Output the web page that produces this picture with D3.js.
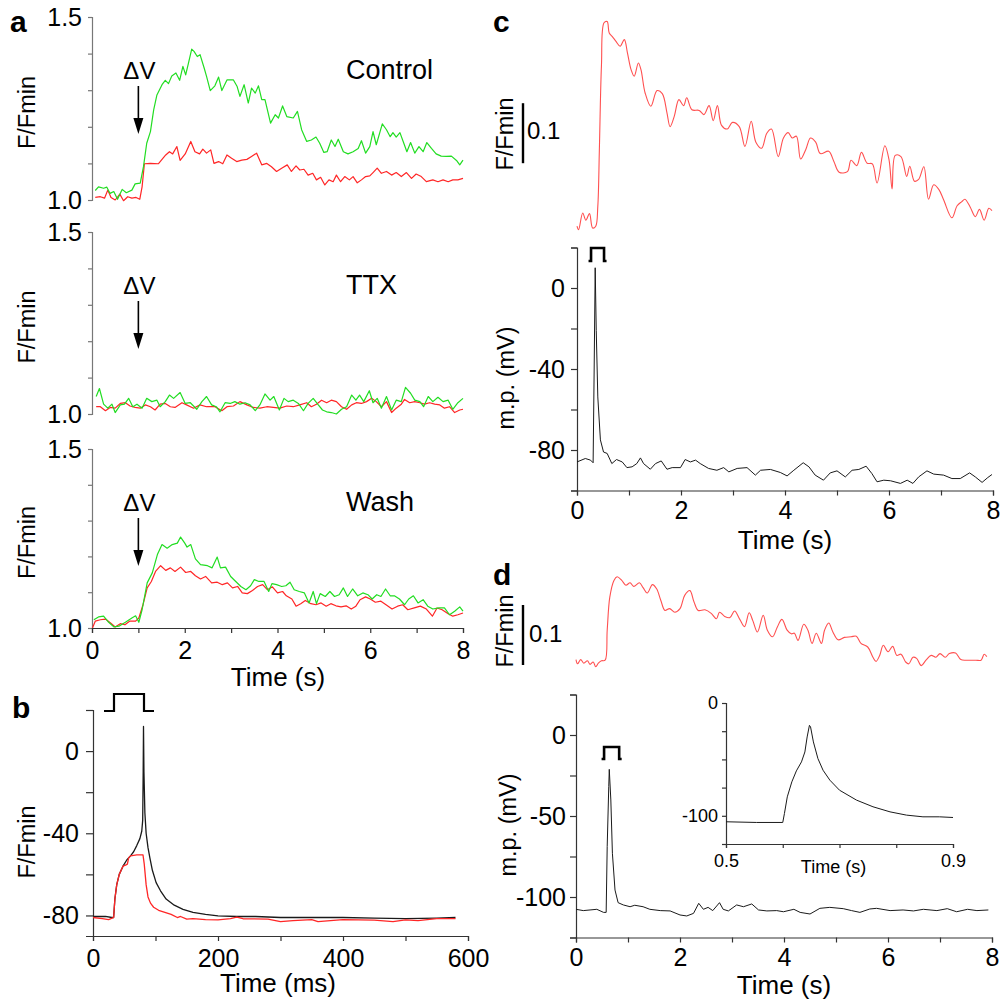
<!DOCTYPE html>
<html>
<head>
<meta charset="utf-8">
<script src="https://cdn.jsdelivr.net/npm/d3@7"></script>
<style>
  html, body { margin: 0; padding: 0; background: #fff; }
  svg text { font-family: "Liberation Sans", Arial, sans-serif; fill: #000; }
</style>
</head>
<body>
<script>
// ---- data ----
// panel a: [time (s), F/Fmin]
const ctrlGreen = [[0.07,1.026],[0.14,1.036],[0.25,1.032],[0.32,1.035],[0.39,1.018],[0.47,1.023],[0.55,1.002],[0.65,1.029],[0.74,1.02],[0.86,1.027],[0.93,1.044],[1.04,1.046],[1.11,1.091],[1.18,1.155],[1.26,1.187],[1.33,1.246],[1.40,1.287],[1.51,1.315],[1.58,1.327],[1.65,1.318],[1.72,1.339],[1.81,1.347],[1.89,1.327],[1.96,1.365],[2.02,1.342],[2.08,1.374],[2.15,1.412],[2.20,1.406],[2.27,1.392],[2.33,1.397],[2.42,1.36],[2.47,1.338],[2.55,1.299],[2.65,1.312],[2.73,1.336],[2.80,1.299],[2.91,1.328],[3.05,1.328],[3.13,1.31],[3.19,1.283],[3.28,1.315],[3.37,1.265],[3.44,1.306],[3.52,1.292],[3.59,1.312],[3.66,1.274],[3.73,1.274],[3.85,1.21],[3.95,1.233],[4.02,1.224],[4.11,1.257],[4.20,1.228],[4.34,1.224],[4.43,1.242],[4.52,1.192],[4.63,1.16],[4.73,1.164],[4.83,1.172],[4.91,1.155],[5.00,1.13],[5.07,1.132],[5.16,1.164],[5.24,1.146],[5.31,1.166],[5.42,1.132],[5.52,1.126],[5.63,1.132],[5.74,1.141],[5.81,1.162],[5.90,1.128],[5.99,1.146],[6.06,1.187],[6.13,1.151],[6.26,1.208],[6.35,1.192],[6.43,1.173],[6.49,1.184],[6.56,1.172],[6.64,1.184],[6.71,1.16],[6.79,1.132],[6.87,1.157],[6.96,1.128],[7.05,1.146],[7.14,1.132],[7.22,1.157],[7.32,1.141],[7.42,1.126],[7.53,1.12],[7.64,1.119],[7.75,1.12],[7.86,1.108],[7.93,1.096],[8.00,1.109]];
const ctrlRed = [[0.07,1.007],[0.18,1.009],[0.27,1.005],[0.34,1.027],[0.41,1.007],[0.50,1.0],[0.60,1.016],[0.68,0.998],[0.77,1.009],[0.86,1.005],[0.95,1.007],[1.03,1.002],[1.08,1.036],[1.13,1.099],[1.26,1.1],[1.43,1.099],[1.51,1.111],[1.59,1.123],[1.67,1.132],[1.74,1.126],[1.83,1.146],[1.90,1.108],[2.01,1.126],[2.13,1.16],[2.22,1.132],[2.32,1.126],[2.39,1.139],[2.47,1.128],[2.56,1.137],[2.63,1.1],[2.73,1.105],[2.82,1.099],[2.91,1.123],[3.01,1.114],[3.12,1.105],[3.23,1.109],[3.34,1.111],[3.44,1.119],[3.55,1.128],[3.66,1.096],[3.77,1.1],[3.87,1.091],[3.98,1.078],[4.09,1.087],[4.21,1.096],[4.30,1.078],[4.40,1.093],[4.48,1.082],[4.57,1.084],[4.66,1.068],[4.76,1.073],[4.84,1.055],[4.93,1.062],[5.02,1.041],[5.11,1.055],[5.20,1.05],[5.27,1.068],[5.36,1.05],[5.45,1.064],[5.55,1.055],[5.63,1.064],[5.72,1.047],[5.81,1.055],[5.90,1.064],[5.99,1.066],[6.06,1.075],[6.15,1.087],[6.24,1.073],[6.35,1.078],[6.46,1.068],[6.56,1.075],[6.67,1.064],[6.78,1.075],[6.89,1.059],[6.99,1.071],[7.10,1.064],[7.21,1.05],[7.35,1.055],[7.46,1.05],[7.57,1.055],[7.68,1.05],[7.78,1.055],[7.89,1.055],[8.00,1.059]];
const ttxGreen = [[0.09,1.048],[0.16,1.07],[0.25,1.027],[0.34,1.016],[0.43,1.027],[0.50,1.004],[0.61,1.025],[0.70,1.027],[0.79,1.043],[0.88,1.02],[0.97,1.027],[1.08,1.016],[1.18,1.043],[1.29,1.034],[1.40,1.038],[1.47,1.02],[1.58,1.034],[1.67,1.052],[1.76,1.043],[1.90,1.059],[2.01,1.029],[2.12,1.031],[2.26,1.013],[2.37,1.034],[2.47,1.048],[2.58,1.025],[2.68,1.02],[2.76,1.006],[2.87,1.031],[2.98,1.029],[3.08,1.034],[3.19,1.027],[3.30,1.031],[3.41,1.025],[3.52,1.009],[3.62,1.025],[3.73,1.055],[3.84,1.038],[3.92,1.048],[4.04,1.011],[4.14,1.043],[4.23,1.034],[4.34,1.038],[4.45,1.029],[4.56,1.009],[4.66,1.029],[4.77,1.043],[4.88,1.025],[4.97,1.011],[5.06,1.006],[5.16,1.004],[5.27,1.0],[5.38,1.013],[5.49,1.02],[5.60,1.052],[5.69,1.038],[5.77,1.052],[5.86,1.034],[5.98,1.064],[6.06,1.031],[6.15,1.043],[6.24,1.016],[6.35,1.048],[6.46,1.011],[6.56,1.038],[6.67,1.034],[6.76,1.073],[6.87,1.057],[6.96,1.038],[7.07,1.034],[7.15,1.02],[7.25,1.048],[7.35,1.034],[7.46,1.046],[7.57,1.034],[7.68,1.038],[7.78,1.013],[7.89,1.031],[8.00,1.043]];
const ttxRed = [[0.09,1.02],[0.18,1.02],[0.29,1.009],[0.39,1.018],[0.50,1.016],[0.61,1.029],[0.72,1.031],[0.82,1.022],[0.93,1.018],[1.04,1.016],[1.15,1.025],[1.26,1.02],[1.36,1.011],[1.47,1.027],[1.58,1.029],[1.69,1.02],[1.79,1.018],[1.94,1.031],[2.04,1.025],[2.19,1.016],[2.33,1.025],[2.47,1.02],[2.65,1.02],[2.80,1.009],[2.91,1.02],[3.05,1.022],[3.19,1.034],[3.34,1.025],[3.48,1.018],[3.62,1.016],[3.77,1.02],[3.91,1.018],[4.05,1.016],[4.20,1.022],[4.34,1.02],[4.48,1.025],[4.63,1.031],[4.73,1.02],[4.84,1.027],[4.95,1.038],[5.06,1.031],[5.16,1.038],[5.27,1.034],[5.38,1.02],[5.49,1.013],[5.60,1.025],[5.70,1.031],[5.81,1.029],[5.92,1.034],[6.03,1.043],[6.13,1.034],[6.24,1.02],[6.35,1.034],[6.46,1.004],[6.56,1.016],[6.67,1.027],[6.74,1.04],[6.85,1.031],[6.96,1.034],[7.07,1.031],[7.17,1.027],[7.28,1.031],[7.39,1.027],[7.50,1.025],[7.60,1.016],[7.71,1.02],[7.82,1.004],[7.93,1.011],[8.00,1.013]];
const washGreen = [[0.04,1.023],[0.14,1.031],[0.25,1.033],[0.36,1.016],[0.47,1.003],[0.58,1.005],[0.72,1.016],[0.86,1.028],[0.94,1.034],[1.01,1.016],[1.08,1.051],[1.19,1.126],[1.30,1.154],[1.41,1.205],[1.51,1.233],[1.62,1.223],[1.73,1.233],[1.84,1.237],[1.91,1.254],[2.00,1.237],[2.05,1.226],[2.13,1.233],[2.23,1.193],[2.34,1.177],[2.49,1.174],[2.59,1.168],[2.70,1.198],[2.77,1.168],[2.88,1.17],[2.99,1.144],[3.10,1.13],[3.21,1.116],[3.32,1.107],[3.42,1.118],[3.50,1.135],[3.60,1.13],[3.71,1.13],[3.81,1.102],[3.88,1.124],[3.98,1.121],[4.09,1.116],[4.18,1.118],[4.27,1.128],[4.36,1.107],[4.47,1.102],[4.58,1.098],[4.68,1.07],[4.77,1.102],[4.84,1.068],[4.92,1.096],[5.03,1.088],[5.13,1.102],[5.23,1.088],[5.33,1.093],[5.42,1.112],[5.51,1.088],[5.62,1.109],[5.73,1.09],[5.84,1.098],[5.95,1.093],[6.04,1.081],[6.14,1.093],[6.23,1.088],[6.33,1.109],[6.43,1.09],[6.52,1.09],[6.63,1.081],[6.74,1.065],[6.83,1.081],[6.93,1.09],[7.03,1.07],[7.14,1.079],[7.24,1.061],[7.35,1.053],[7.48,1.056],[7.60,1.056],[7.71,1.037],[7.82,1.047],[7.93,1.059],[8.00,1.047]];
const washRed = [[0.01,1.0],[0.07,1.019],[0.18,1.023],[0.29,1.025],[0.40,1.014],[0.50,1.003],[0.61,1.012],[0.71,1.009],[0.81,1.019],[0.94,1.019],[1.01,1.028],[1.10,1.065],[1.19,1.112],[1.28,1.13],[1.37,1.158],[1.48,1.174],[1.59,1.161],[1.69,1.168],[1.79,1.158],[1.91,1.17],[2.02,1.155],[2.13,1.158],[2.23,1.146],[2.34,1.137],[2.45,1.144],[2.58,1.126],[2.70,1.128],[2.81,1.121],[2.92,1.126],[3.03,1.112],[3.14,1.116],[3.24,1.098],[3.35,1.096],[3.46,1.105],[3.57,1.116],[3.68,1.121],[3.78,1.107],[3.89,1.115],[4.00,1.098],[4.11,1.102],[4.19,1.09],[4.31,1.081],[4.40,1.061],[4.50,1.068],[4.60,1.077],[4.72,1.068],[4.83,1.065],[4.94,1.07],[5.05,1.061],[5.15,1.068],[5.26,1.062],[5.37,1.059],[5.48,1.062],[5.59,1.053],[5.69,1.061],[5.78,1.079],[5.90,1.087],[6.00,1.081],[6.11,1.072],[6.23,1.075],[6.34,1.065],[6.47,1.053],[6.59,1.061],[6.70,1.065],[6.81,1.051],[6.95,1.056],[7.08,1.061],[7.21,1.053],[7.34,1.033],[7.44,1.056],[7.55,1.051],[7.68,1.04],[7.78,1.033],[7.89,1.037],[8.00,1.042]];

// panel b: [time (ms), value]
const bBlack = [[0,-80.5],[20,-80.5],[30,-81],[33,-81],[35,-72],[38,-65],[42,-60],[48,-56],[54,-53],[60,-51],[65,-49],[70,-46],[75,-42.6],[78,-39],[79.5,-33.7],[80.3,-10],[80.8,12],[81.5,-10],[83,-30],[85,-40],[88,-47],[91,-52],[95,-58],[101,-64],[108,-68],[117,-72],[130,-75],[144,-77],[160,-78.5],[180,-79.5],[200,-80.2],[230,-80.5],[260,-80.5],[300,-81],[350,-81],[400,-81],[450,-81.3],[500,-81.5],[550,-81.3],[580,-81]];
const bRed = [[0,-81],[15,-81.5],[25,-82],[33,-81],[35,-72],[38,-65],[42,-60],[48,-56],[52,-55.5],[55,-55],[57,-52],[60,-51],[70,-50.5],[80,-50.5],[82,-55],[85,-65],[88,-71],[92,-74],[97,-76],[105,-77.5],[115,-78.5],[125,-79.5],[135,-81],[140,-80.5],[150,-81.8],[160,-81.5],[180,-82],[200,-82.2],[220,-81.5],[230,-80.8],[240,-81.6],[280,-81.8],[300,-83],[320,-82.5],[350,-82],[360,-83],[400,-82],[450,-82.3],[480,-83],[500,-82.2],[520,-82.5],[550,-81.5],[580,-81.5]];
const bPulse = [17.6, 33.6, 81.6, 96];   // step command: start, on, off, end (ms)

// panel c: [time (s), F/Fmin] and [time (s), mV]
const cRed = [[0,1.003],[0.03,0.997],[0.11,1.025],[0.17,1.013],[0.24,1.024],[0.30,1.0],[0.36,1.003],[0.40,1.036],[0.43,1.13],[0.47,1.27],[0.52,1.342],[0.58,1.344],[0.62,1.325],[0.68,1.319],[0.75,1.311],[0.83,1.303],[0.91,1.314],[0.97,1.292],[1.04,1.264],[1.10,1.253],[1.18,1.275],[1.23,1.264],[1.31,1.225],[1.42,1.203],[1.54,1.229],[1.64,1.224],[1.73,1.192],[1.79,1.169],[1.87,1.186],[1.96,1.214],[2.05,1.204],[2.11,1.217],[2.21,1.197],[2.35,1.196],[2.44,1.189],[2.54,1.204],[2.62,1.179],[2.70,1.204],[2.78,1.171],[2.89,1.165],[2.99,1.176],[3.12,1.169],[3.23,1.136],[3.35,1.178],[3.44,1.143],[3.55,1.133],[3.65,1.158],[3.74,1.165],[3.87,1.119],[3.97,1.15],[4.06,1.159],[4.14,1.15],[4.22,1.153],[4.30,1.115],[4.40,1.131],[4.49,1.15],[4.59,1.143],[4.68,1.124],[4.84,1.128],[4.94,1.111],[5.04,1.093],[5.20,1.094],[5.27,1.113],[5.38,1.104],[5.47,1.126],[5.58,1.108],[5.68,1.107],[5.77,1.075],[5.92,1.137],[6.00,1.114],[6.06,1.065],[6.12,1.121],[6.23,1.119],[6.34,1.086],[6.40,1.103],[6.49,1.078],[6.57,1.081],[6.67,1.102],[6.76,1.048],[6.86,1.072],[6.96,1.064],[7.05,1.047],[7.21,1.017],[7.31,1.037],[7.40,1.044],[7.46,1.048],[7.56,1.035],[7.66,1.019],[7.74,1.031],[7.83,1.013],[7.92,1.033],[7.98,1.029]];
const cBlack = [[0,-85.9],[0.16,-84.2],[0.26,-85],[0.31,-86.3],[0.33,-40],[0.35,10],[0.37,-20.9],[0.40,-53.8],[0.45,-75],[0.51,-81],[0.58,-81.7],[0.67,-86.7],[0.76,-84.7],[0.87,-85.9],[0.96,-88.7],[1.06,-88.3],[1.15,-86.7],[1.22,-83.9],[1.28,-86.7],[1.41,-89.5],[1.51,-86.7],[1.62,-85.4],[1.73,-89.5],[1.83,-88.7],[1.99,-88.7],[2.08,-84.7],[2.18,-85.9],[2.28,-85],[2.37,-86.7],[2.53,-89.1],[2.69,-90],[2.82,-88.7],[2.92,-90.8],[3.08,-89.1],[3.27,-88.7],[3.43,-92.4],[3.53,-90],[3.72,-89.6],[3.91,-91.1],[4.04,-92.8],[4.17,-90],[4.35,-86.3],[4.46,-88.3],[4.58,-92.4],[4.74,-94.9],[4.87,-91.3],[5.00,-90.3],[5.16,-93.3],[5.29,-90],[5.42,-89.6],[5.56,-88],[5.67,-91.6],[5.77,-95.7],[5.90,-94.9],[6.03,-95.2],[6.22,-96.5],[6.35,-94.9],[6.46,-96.5],[6.57,-93.3],[6.73,-90.3],[6.86,-91.9],[7.05,-92.4],[7.21,-94.1],[7.37,-94.1],[7.55,-91.3],[7.66,-93.3],[7.79,-96],[7.90,-93.6],[7.98,-92.1]];
const cPulse = [0.27, 0.52];

// panel d
const dRed = [[0,1.004],[0.03,0.997],[0.09,1.004],[0.15,0.998],[0.22,1.002],[0.27,0.996],[0.33,1.0],[0.38,0.992],[0.43,0.998],[0.49,1.002],[0.56,1.003],[0.60,1.053],[0.65,1.108],[0.73,1.136],[0.79,1.142],[0.88,1.136],[0.96,1.128],[1.04,1.132],[1.11,1.126],[1.22,1.132],[1.29,1.124],[1.37,1.115],[1.47,1.129],[1.55,1.122],[1.63,1.103],[1.71,1.086],[1.80,1.089],[1.90,1.083],[2.00,1.089],[2.09,1.111],[2.19,1.119],[2.27,1.1],[2.35,1.086],[2.48,1.087],[2.60,1.081],[2.70,1.072],[2.76,1.083],[2.86,1.076],[2.96,1.074],[3.05,1.085],[3.15,1.071],[3.24,1.059],[3.33,1.082],[3.40,1.069],[3.49,1.05],[3.60,1.078],[3.68,1.053],[3.78,1.042],[3.87,1.058],[3.96,1.071],[4.06,1.053],[4.14,1.047],[4.20,1.048],[4.27,1.036],[4.38,1.063],[4.46,1.053],[4.54,1.031],[4.62,1.048],[4.72,1.031],[4.78,1.053],[4.86,1.065],[4.94,1.05],[5.04,1.037],[5.16,1.041],[5.29,1.042],[5.39,1.043],[5.48,1.031],[5.61,1.025],[5.71,1.008],[5.77,1.001],[5.84,1.011],[5.91,1.028],[6.00,1.017],[6.09,1.026],[6.17,1.011],[6.25,1.013],[6.34,1.0],[6.40,0.997],[6.48,1.008],[6.55,1.006],[6.64,0.994],[6.73,1.003],[6.83,1.011],[6.92,1.008],[7.00,1.014],[7.10,1.008],[7.18,1.014],[7.30,1.015],[7.40,1.004],[7.53,1.003],[7.69,1.003],[7.79,1.003],[7.85,1.013],[7.90,1.009]];
const dBlack = [[0,-107.6],[0.14,-108.4],[0.27,-108],[0.40,-107.6],[0.53,-109.5],[0.58,-109.5],[0.60,-68.9],[0.63,-31.9],[0.64,-21.2],[0.67,-40.1],[0.70,-73],[0.75,-95.7],[0.81,-103.5],[0.91,-104.9],[1.04,-106],[1.13,-105.1],[1.29,-106],[1.42,-107.6],[1.62,-108.4],[1.81,-108.6],[2.00,-111.1],[2.13,-111.7],[2.26,-110.1],[2.36,-103.9],[2.45,-107.6],[2.54,-106.4],[2.63,-108.4],[2.76,-103.5],[2.83,-107.6],[2.93,-108.6],[3.09,-104.9],[3.22,-106],[3.38,-104.3],[3.51,-108],[3.67,-108.6],[3.86,-108.4],[3.99,-109.1],[4.19,-107.6],[4.31,-109.5],[4.50,-110.5],[4.69,-107],[4.88,-106.4],[5.14,-107.2],[5.30,-108.4],[5.46,-109.5],[5.65,-107.4],[5.78,-107],[6.04,-108.4],[6.29,-108],[6.49,-108.6],[6.68,-107.6],[6.94,-108.4],[7.14,-107.2],[7.32,-109.1],[7.53,-107.6],[7.71,-108.4],[7.93,-108]];
const dPulse = [0.54, 0.83];
const dInset = [[0.5,-105.3],[0.554,-105.9],[0.6,-105.9],[0.603,-97.9],[0.608,-83.2],[0.616,-69.9],[0.624,-60.2],[0.633,-52.2],[0.639,-43.4],[0.643,-30.1],[0.647,-19.8],[0.649,-21.2],[0.654,-34.5],[0.662,-49.3],[0.671,-59.6],[0.683,-68.4],[0.7,-77.3],[0.73,-86.1],[0.759,-92],[0.789,-96.5],[0.818,-99.4],[0.847,-100.9],[0.876,-100.9],[0.9,-101.5]];

// tick values
const aTicksY = [1.0, 1.1, 1.2, 1.3, 1.4, 1.5];
const aLabelsY = [1.0, 1.5];
const secTicks = [0, 1, 2, 3, 4, 5, 6, 7, 8];
const secLabels = [0, 2, 4, 6, 8];
const bTicksX = [0, 100, 200, 300, 400, 500, 600];
const bLabelsX = [0, 200, 400, 600];
const bTicksY = [20, 0, -20, -40, -60, -80];
const bLabelsY = [0, -40, -80];
const cTicksY = [20, 0, -20, -40, -60, -80, -100];
const cLabelsY = [0, -40, -80];
const dTicksY = [25, 0, -25, -50, -75, -100, -125];
const dLabelsY = [0, -50, -100];
const insetTicksX = [0.5, 0.6, 0.7, 0.8, 0.9];
const insetLabelsX = [0.5, 0.9];
const insetTicksY = [0, -25, -50, -75, -100, -125];
const insetLabelsY = [0, -100];

const aConditions = ["Control", "TTX", "Wash"];

// ---- drawing ----
const svg = d3.select("body").append("svg")
  .attr("width", 1004)
  .attr("height", 1003);

const GREEN = "#22dd22", RED = "#ff2626", PALE_RED = "#ff5050", BLACK = "#1a1a1a";

function trace(data, xs, ys, color, width, curve) {
  svg.append("path")
    .datum(data)
    .attr("fill", "none")
    .attr("stroke", color)
    .attr("stroke-width", width)
    .attr("stroke-linejoin", "round")
    .attr("d", d3.line().x(d => xs(d[0])).y(d => ys(d[1])).curve(curve || d3.curveLinear));
}

function styleAxis(g, fontSize, color) {
  g.select(".domain").attr("stroke", color).attr("stroke-width", 1.2);
  g.selectAll(".tick line").attr("stroke", color).attr("stroke-width", 1.2);
  g.selectAll(".tick text").attr("fill", "#000").style("font-size", fontSize + "px")
    .style("font-family", "'Liberation Sans', Arial, sans-serif");
}

function fmtLabel(labels, fmt) {
  return d => labels.includes(d) ? fmt(d) : "";
}

function leftAxis(x, scale, ticks, labels, fmt, o) {
  const g = svg.append("g").attr("transform", `translate(${x},0)`)
    .call(d3.axisLeft(scale).tickValues(ticks).tickSizeOuter(0)
      .tickSize(o.size).tickPadding(o.pad).tickFormat(fmtLabel(labels, fmt)));
  styleAxis(g, o.font, o.color);
}

function bottomAxis(y, scale, ticks, labels, fmt, o) {
  const g = svg.append("g").attr("transform", `translate(0,${y})`)
    .call(d3.axisBottom(scale).tickValues(ticks).tickSizeOuter(0)
      .tickSize(o.size).tickPadding(o.pad).tickFormat(fmtLabel(labels, fmt)));
  styleAxis(g, o.font, o.color);
}

function label(text, x, y, size, opts = {}) {
  const t = svg.append("text")
    .attr("x", x).attr("y", y)
    .attr("text-anchor", opts.anchor || "middle")
    .style("font-size", size + "px")
    .text(text);
  if (opts.bold) t.style("font-weight", "bold");
  return t;
}

function yTitle(text, cx, cy, size) {
  svg.append("text")
    .attr("transform", `translate(${cx},${cy}) rotate(-90)`)
    .attr("text-anchor", "middle")
    .attr("dy", "0.35em")
    .style("font-size", size + "px")
    .text(text);
}

function pulse(x0, x1, yTop, yBot, foot, width) {
  svg.append("path")
    .attr("fill", "none").attr("stroke", "#000").attr("stroke-width", width)
    .attr("d", `M${x0 - foot},${yBot}H${x0}V${yTop}H${x1}V${yBot}H${x1 + foot}`);
}

const num = d => String(d);
const dec1 = d3.format(".1f");

// ---- panel a ----
const xA = d3.scaleLinear().domain([0, 8]).range([92, 463]);
const aTops = [17, 232, 449];
const aBottoms = [200, 414, 628];
const aSeries = [[ctrlGreen, ctrlRed], [ttxGreen, ttxRed], [washGreen, washRed]];

aSeries.forEach(([green, red], i) => {
  const top = aTops[i];
  const y = d3.scaleLinear().domain([1.0, 1.5]).range([aBottoms[i], top]);
  leftAxis(xA(0), y, aTicksY, aLabelsY, dec1, { size: 4, pad: 6, font: 25, color: "#777" });
  trace(red, xA, y, RED, 1.2);
  trace(green, xA, y, GREEN, 1.2);
  yTitle("F/Fmin", 27, (top + aBottoms[i]) / 2 + 4, 23.5);

  // stimulus arrow
  const ax = xA(1);
  label("\u0394V", ax + 1, top + 62, 24);
  svg.append("line")
    .attr("x1", ax).attr("x2", ax)
    .attr("y1", top + 69).attr("y2", top + 104)
    .attr("stroke", "#000").attr("stroke-width", 1.6);
  svg.append("path")
    .attr("d", `M${ax - 5},${top + 101}L${ax + 5},${top + 101}L${ax},${top + 117}Z`)
    .attr("fill", "#000");

  label(aConditions[i], 346, top + 62, 27, { anchor: "start" });
});
bottomAxis(aBottoms[2], xA, secTicks, secLabels, num, { size: 5, pad: 8, font: 25, color: "#333" });
label("Time (s)", 278, 686, 26);
label("a", 10, 32, 30, { anchor: "start", bold: true });

// ---- panel b ----
const xB = d3.scaleLinear().domain([0, 600]).range([93, 468]);
const yB = d3.scaleLinear().domain([-90, 20]).range([936, 710]);
leftAxis(xB(0), yB, bTicksY, bLabelsY, num, { size: 7, pad: 7, font: 25, color: "#333" });
bottomAxis(yB(-90), xB, bTicksX, bLabelsX, num, { size: 5, pad: 8, font: 25, color: "#333" });
trace(bBlack, xB, yB, BLACK, 1.3);
trace(bRed, xB, yB, RED, 1.3);
pulse(xB(bPulse[1]), xB(bPulse[2]), yB(20) - 16, yB(20) + 1, xB(bPulse[1]) - xB(bPulse[0]), 2.2);
yTitle("F/Fmin", 27, 842, 23.5);
label("Time (ms)", 278, 992, 26);
label("b", 12, 718, 30, { anchor: "start", bold: true });

// ---- panel c ----
const xC = d3.scaleLinear().domain([0, 8]).range([577, 993]);
const yCu = d3.scaleLinear().domain([1.0, 1.1]).range([228, 168]);
trace(cRed, xC, yCu, PALE_RED, 1.1, d3.curveCatmullRom);
svg.append("line")
  .attr("x1", 523).attr("x2", 523)
  .attr("y1", yCu(1.108)).attr("y2", yCu(1.208))
  .attr("stroke", "#000").attr("stroke-width", 2.4);
label("0.1", 527, 139, 24, { anchor: "start" });
yTitle("F/Fmin", 505, 134, 23.5);

const yCl = d3.scaleLinear().domain([-100, 20]).range([490.5, 247.5]);
leftAxis(xC(0), yCl, cTicksY, cLabelsY, num, { size: 6, pad: 6, font: 25, color: "#333" });
bottomAxis(yCl(-100), xC, secTicks, secLabels, num, { size: 5, pad: 6, font: 25, color: "#333" });
trace(cBlack, xC, yCl, BLACK, 1);
pulse(xC(cPulse[0]), xC(cPulse[1]), 248, 261, 2.5, 2.6);
yTitle("m.p. (mV)", 506, 378, 23.5);
label("Time (s)", 785, 549, 26);
label("c", 493, 32, 30, { anchor: "start", bold: true });

// ---- panel d ----
const xD = d3.scaleLinear().domain([0, 8]).range([576, 992]);
const yDu = d3.scaleLinear().domain([1.0, 1.1]).range([662, 602]);
trace(dRed, xD, yDu, PALE_RED, 1.1, d3.curveCatmullRom);
svg.append("line")
  .attr("x1", 523).attr("x2", 523)
  .attr("y1", yDu(0.995)).attr("y2", yDu(1.095))
  .attr("stroke", "#000").attr("stroke-width", 2.4);
label("0.1", 529, 642, 24, { anchor: "start" });
yTitle("F/Fmin", 505, 631, 23.5);

const yDl = d3.scaleLinear().domain([-125, 25]).range([937.5, 694.5]);
leftAxis(xD(0), yDl, dTicksY, dLabelsY, num, { size: 6, pad: 4, font: 25, color: "#333" });
bottomAxis(yDl(-125), xD, secTicks, secLabels, num, { size: 5, pad: 6, font: 25, color: "#333" });
trace(dBlack, xD, yDl, BLACK, 1);
pulse(xD(dPulse[0]), xD(dPulse[1]), 747, 759, 2.5, 2.6);
yTitle("m.p. (mV)", 508, 825, 23.5);
label("Time (s)", 784, 994, 26);
label("d", 493, 585, 30, { anchor: "start", bold: true });

// inset
const xI = d3.scaleLinear().domain([0.5, 0.9]).range([726, 953]);
const yI = d3.scaleLinear().domain([-125, 0]).range([844, 703]);
leftAxis(xI(0.5), yI, insetTicksY, insetLabelsY, num, { size: 4, pad: 4, font: 18, color: "#333" });
bottomAxis(yI(-125), xI, insetTicksX, insetLabelsX, num, { size: 4, pad: 6, font: 18, color: "#333" });
trace(dInset, xI, yI, BLACK, 1);
label("Time (s)", xI(0.7) - 6, 873, 18);
</script>
</body>
</html>
